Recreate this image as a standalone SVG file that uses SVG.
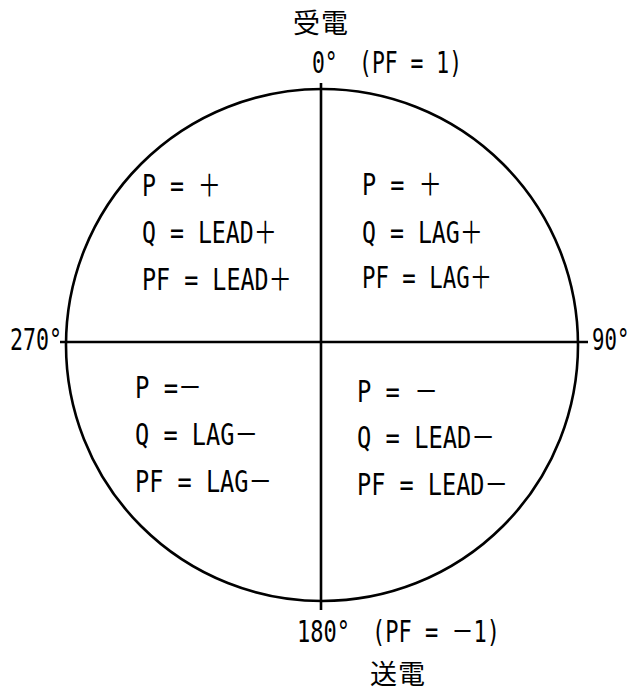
<svg xmlns="http://www.w3.org/2000/svg" width="641" height="693" viewBox="0 0 641 693">
<style>
text{font-family:"DejaVu Sans Mono","Noto Sans CJK JP",monospace;font-size:30px;fill:#000}
text.cjk{font-family:"Noto Sans CJK JP",sans-serif;font-size:27px}
.ln{stroke:#000;stroke-width:2.6;fill:none}
</style>
<rect width="641" height="693" fill="#fff"/>
<g id="connectors">
<circle class="ln" cx="322" cy="345" r="256"/>
<line class="ln" x1="321" y1="83" x2="321" y2="610"/>
<line class="ln" x1="60" y1="342" x2="588" y2="342"/>
</g>
<g id="top">
<text class="cjk" x="293" y="33" textLength="55">受電</text>
<text x="312" y="73" textLength="150" lengthAdjust="spacingAndGlyphs">0°　(PF = 1)</text>
</g>
<g id="bottom">
<text x="297" y="642" textLength="203" lengthAdjust="spacingAndGlyphs">180°　(PF = －1)</text>
<text class="cjk" x="370" y="684" textLength="55">送電</text>
</g>
<g id="left"><text x="10" y="350" textLength="52" lengthAdjust="spacingAndGlyphs">270°</text></g>
<g id="right"><text transform="translate(592,350) scale(0.69,1)">90°</text></g>
<g id="q1">
<text x="142" y="196" textLength="79" lengthAdjust="spacingAndGlyphs">P = ＋</text>
<text x="142" y="243" textLength="135" lengthAdjust="spacingAndGlyphs">Q = LEAD＋</text>
<text x="142" y="290" textLength="150" lengthAdjust="spacingAndGlyphs">PF = LEAD＋</text>
</g>
<g id="q2">
<text x="362" y="195" textLength="80" lengthAdjust="spacingAndGlyphs">P = ＋</text>
<text x="362" y="243" textLength="121" lengthAdjust="spacingAndGlyphs">Q = LAG＋</text>
<text x="362" y="288" textLength="130" lengthAdjust="spacingAndGlyphs">PF = LAG＋</text>
</g>
<g id="q3">
<text x="135" y="398" textLength="67" lengthAdjust="spacingAndGlyphs">P =－</text>
<text x="135" y="445" textLength="123" lengthAdjust="spacingAndGlyphs">Q = LAG－</text>
<text x="135" y="492" textLength="137" lengthAdjust="spacingAndGlyphs">PF = LAG－</text>
</g>
<g id="q4">
<text x="357" y="402" textLength="81" lengthAdjust="spacingAndGlyphs">P = －</text>
<text x="357" y="448" textLength="138" lengthAdjust="spacingAndGlyphs">Q = LEAD－</text>
<text x="357" y="495" textLength="151" lengthAdjust="spacingAndGlyphs">PF = LEAD－</text>
</g>
</svg>
